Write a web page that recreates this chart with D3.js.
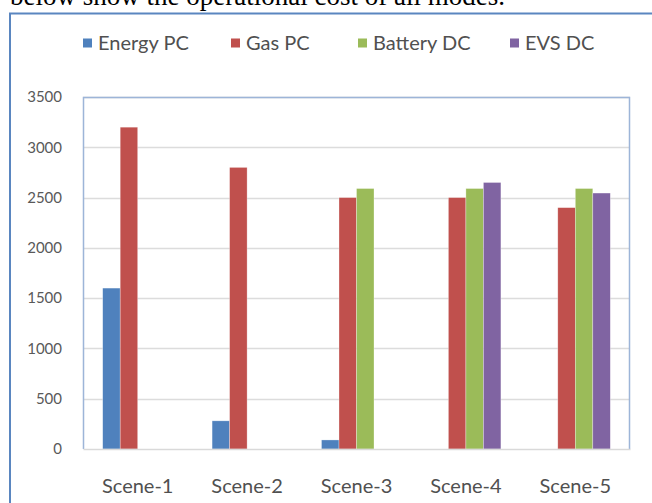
<!DOCTYPE html>
<html>
<head>
<meta charset="utf-8">
<script src="https://cdn.jsdelivr.net/npm/d3@7"></script>
<style>
  body { margin: 0; background: #fff; }
  svg { display: block; }
</style>
</head>
<body>
<div id="d3-container"></div>
<script>
// chart values
const scenes = ["Scene-1", "Scene-2", "Scene-3", "Scene-4", "Scene-5"];
const seriesNames = ["Energy PC", "Gas PC", "Battery DC", "EVS DC"];
const seriesColors = ["#4f81bd", "#c0504d", "#9bbb59", "#8064a2"];
const energyPC = [1600, 280, 90, 0, 0];
const gasPC = [3200, 2800, 2500, 2500, 2400];
const batteryDC = [0, 0, 2590, 2590, 2590];
const evsDC = [0, 0, 0, 2650, 2545];
const yTicks = [0, 500, 1000, 1500, 2000, 2500, 3000, 3500];

const seriesValues = [energyPC, gasPC, batteryDC, evsDC];

const W = 652, H = 503;
const margin = { top: 97, left: 83, right: 22, bottom: 54 };
const width = W - margin.left - margin.right,
  height = H - margin.top - margin.bottom;

const labelFont = 'Lato, "Open Sans", sans-serif';

const svg = d3.select('#d3-container')
  .append('svg')
  .attr('width', W)
  .attr('height', H);

// caption line of the page, cut at the top like in the scan
svg.append('text')
  .attr('x', 10)
  .attr('y', 5)
  .style('font-family', '"Liberation Serif", "Times New Roman", serif')
  .style('font-size', '27px')
  .attr('fill', '#000')
  .text('below show the operational cost of all modes.');

// outer chart frame
svg.append('rect')
  .attr('x', 10)
  .attr('y', 13.5)
  .attr('width', 700)
  .attr('height', 600)
  .attr('fill', 'none')
  .attr('stroke', '#5a86c0')
  .attr('stroke-width', 2);

const g = svg.append('g')
  .attr('transform', `translate(${margin.left},${margin.top})`);

const x = d3.scaleBand()
  .domain(scenes)
  .range([0, width])
  .padding(0);

const inner = d3.scaleBand()
  .domain(d3.range(seriesNames.length))
  .range([0, x.bandwidth() * 0.64])
  .padding(0);

const y = d3.scaleLinear()
  .domain([0, 3500])
  .range([height, 0]);

// gridlines
g.append('g')
  .selectAll('line')
  .data(yTicks.slice(1))
  .join('line')
  .attr('x1', 0)
  .attr('x2', width)
  .attr('y1', d => Math.round(y(d)) + 0.5)
  .attr('y2', d => Math.round(y(d)) + 0.5)
  .attr('stroke', '#dcdcdc')
  .attr('stroke-width', 1.5);

// plot area border (light blue)
g.append('path')
  .attr('d', `M0.5,${height} V0.5 H${width - 0.5} V${height}`)
  .attr('fill', 'none')
  .attr('stroke', '#9db5d8')
  .attr('stroke-width', 1.5);

// y axis labels
const yAxis = d3.axisLeft(y).tickValues(yTicks).tickFormat(d3.format('d')).tickSize(0).tickPadding(21);
g.append('g')
  .call(yAxis)
  .call(s => s.select('.domain').remove())
  .selectAll('text')
  .style('font-family', labelFont)
  .style('font-size', '15px')
  .attr('fill', '#595959');

// bars
const groups = g.selectAll('.grp')
  .data(scenes)
  .join('g')
  .attr('class', 'grp')
  .attr('transform', d => `translate(${x(d) + (x.bandwidth() - inner.range()[1]) / 2},0)`);

groups.selectAll('rect')
  .data((d, i) => seriesValues.map((vals, s) => ({ s: s, v: vals[i] })).filter(e => e.v > 0))
  .join('rect')
  .attr('x', d => inner(d.s))
  .attr('y', d => y(d.v))
  .attr('width', inner.bandwidth())
  .attr('height', d => height - y(d.v))
  .attr('fill', d => seriesColors[d.s])
  .attr('stroke', 'rgba(255,255,255,0.5)')
  .attr('stroke-width', 0.6);

// x axis
const xAxis = d3.axisBottom(x).tickSize(0).tickPadding(30);
g.append('g')
  .attr('transform', `translate(0,${height})`)
  .call(xAxis)
  .call(s => s.select('.domain').attr('stroke', '#d9d9d9').attr('stroke-width', 1.5))
  .selectAll('text')
  .style('font-family', labelFont)
  .style('font-size', '20px')
  .attr('fill', '#505050');

// legend
const legendX = [83, 231, 358, 510];
const legend = svg.append('g')
  .selectAll('g')
  .data(seriesNames)
  .join('g')
  .attr('transform', (d, i) => `translate(${legendX[i]},43)`);

legend.append('rect')
  .attr('x', 0)
  .attr('y', -4.5)
  .attr('width', 9)
  .attr('height', 9)
  .attr('fill', (d, i) => seriesColors[i]);

legend.append('text')
  .attr('x', 15)
  .attr('dy', '0.35em')
  .style('font-family', labelFont)
  .style('font-size', '20px')
  .attr('fill', '#505050')
  .text(d => d);
</script>
</body>
</html>
